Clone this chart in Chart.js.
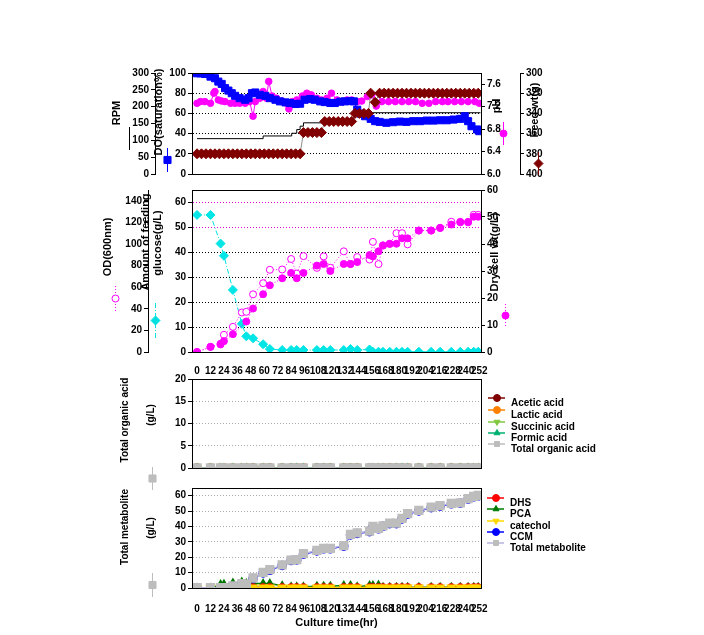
<!DOCTYPE html>
<html>
<head>
<meta charset="utf-8">
<script src="https://cdn.jsdelivr.net/npm/chart.js@4.4.0/dist/chart.umd.min.js"></script>
<style>
  body { margin: 0; background: #fff; }
  #wrap { position: relative; width: 704px; height: 635px; }
  canvas { position: absolute; left: 0; }
</style>
</head>
<body>
<div id="wrap">
  <canvas id="c1" width="704" height="122" style="top:60px"></canvas>
  <canvas id="c2" width="704" height="196" style="top:182px"></canvas>
  <canvas id="c3" width="704" height="136" style="top:362px"></canvas>
  <canvas id="c4" width="704" height="155" style="top:480px"></canvas>
</div>
<script>
// --- off-line samples (hr) ---
const sampleHours = [0, 12, 21, 24, 32, 40, 44, 50, 59, 65, 76, 84, 89, 95, 107, 113, 119, 131, 137, 143,
  154, 157, 162, 166, 172, 178, 183, 188, 198, 209, 217, 227, 235, 242, 247, 251];
const odValues = [0, 4.7, 7.7, 15.9, 23.3, 36.6, 37.2, 53.4, 63.7, 76.1, 76.4, 86.1, 72.6, 88.8, 77.9, 88.5, 78, 93.2, 81.4, 87.9,
  85.6, 102, 81.4, 98.5, 100, 110, 110, 99.7, 112.4, 112.4, 114.7, 120.6, 120, 120, 127, 127];
const dcwValues = [0, 1.9, 2.8, 4.0, 6.6, null, 11.3, 16.1, 21.4, 24.7, 27.3, 29.3, 27.3, 29.3, 32.0, 32.6, 30.0, 32.6, 32.6, 33.3,
  35.9, 35.4, 37.3, 39.5, 40.1, 40.1, 42.1, 42.1, 45.0, 45.0, 46.0, 47.2, 48.2, 48.2, 50.1, 50.1];
const glucoseValues = [55, 55, 43.5, 38.6, 24.9, 11.3, 6.3, 5.5, 3.1, 1.2, 0.8, 0.8, 0.8, 0.8, 0.8, 0.8, 0.8, 0.8, 1.2, 0.8,
  1.0, 0.1, 0.1, 0.1, 0.1, 0.1, 0.1, 0.1, 0.1, 0.1, 0.1, 0.1, 0.1, 0.1, 0.1, 0.1];

const aceticValues = [0, 0, 0, 0, 0, 0, 0, 0, 0, 0, 0, 0, 0, 0, 0, 0, 0, 0, 0, 0, 0, 0, 0, 0, 0, 0, 0, 0, 0, 0, 0, 0, 0, 0, 0, 0];
const lacticValues = [0, 0, 0, 0, 0, 0, 0, 0, 0, 0, 0, 0, 0, 0, 0, 0, 0, 0, 0, 0, 0, 0, 0, 0, 0, 0, 0, 0, 0, 0, 0, 0, 0, 0, 0, 0];
const succinicValues = [0, 0, 0, 0, 0, 0, 0, 0, 0, 0, 0, 0, 0, 0, 0, 0, 0, 0, 0, 0, 0, 0, 0, 0, 0, 0, 0, 0, 0, 0, 0, 0, 0, 0, 0, 0];
const formicValues = [0, 0, 0, 0, 0, 0, 0, 0, 0, 0, 0, 0, 0, 0, 0, 0, 0, 0, 0, 0, 0, 0, 0, 0, 0, 0, 0, 0, 0, 0, 0, 0, 0, 0, 0, 0];
const totalAcidValues = [0, 0, 0, 0, 0, 0, 0, 0, 0, 0, 0, 0, 0, 0, 0, 0, 0, 0, 0, 0, 0, 0, 0, 0, 0, 0, 0, 0, 0, 0, 0, 0, 0, 0, 0, 0];

const dhsValues = [0, 0, 0, 0, 0, 0, 0, 0, 0, 0, 0, 0, 0, 0, 0, 0, 0, 0, 0, 0, 0, 0, 0, 0, 0, 0, 0, 0, 0, 0, 0, 0, 0, 0, 0, 0];
const pcaValues = [0, 0, 2.3, 2.5, 3.3, 3.9, 3.0, 2.9, 2.9, 2.9, 1.5, 0.8, 0.8, 0.8, 1.2, 1.2, 1.2, 1.7, 1.7, 0.8,
  1.7, 1.7, 1.9, 0.5, 0.5, 0.5, 0.5, 0.5, 0.5, 0.5, 0.5, 0.5, 0.5, 0.5, 0.5, 0.5];
const catecholValues = [0, 0, 0.1, 0.1, 0.2, 0.3, 0.3, 0.4, 0.4, 0.4, 0.4, 0.4, 0.4, 0.4, 0.4, 0.4, 0.4, 0.4, 0.4, 0.4,
  0.4, 0.4, 0.4, 0.4, 0.4, 0.4, 0.4, 0.4, 0.4, 0.4, 0.4, 0.4, 0.4, 0.4, 0.4, 0.4];
const ccmValues = [0.1, 0.1, 0.1, 0.1, 1.0, 2.5, 2.0, 6.1, 9.8, 11.5, 14.7, 17.8, 18.2, 22.0, 24.1, 25.5, 25.5, 27.2, 34.5, 35.5,
  36.6, 39.7, 38.5, 40.1, 41.8, 41.8, 44.9, 48.0, 50.1, 52.2, 53.2, 54.7, 55.1, 57.8, 59.3, 59.9];
const totalMetValues = [0.2, 0.2, 0.2, 0.2, 1.3, 2.9, 2.3, 6.5, 10.2, 11.9, 15.0, 18.1, 18.5, 22.3, 24.4, 25.8, 25.8, 27.5, 34.8, 35.8,
  36.9, 40.0, 38.8, 40.4, 42.1, 42.1, 45.2, 48.3, 50.4, 52.5, 53.5, 55.0, 55.4, 58.1, 59.6, 60.2];

// --- on-line data (top panel) ---
const rpmHours = [0, 59, 84.5, 89, 92, 95, 113, 140, 253];
const rpmValues = [105, 113, 121, 132, 142, 152, 162, 182, 182];

const doHours = [0, 3, 7, 12, 16, 19, 22, 25, 28, 31, 34, 38, 43, 46, 49, 52, 56, 61, 65, 70, 74, 79, 83, 88, 92, 96, 101, 105,
  110, 114, 119, 123, 128, 132, 137, 140, 143, 146, 150, 155, 159, 163, 169, 175, 181, 187, 193, 199, 205, 211, 217, 223,
  229, 235, 239, 242, 245, 250, 252];
const doValues = [99.7, 99.7, 99, 96.4, 94.8, 91.5, 89.2, 85, 82.6, 80, 77.4, 75.1, 73.5, 75.1, 80, 80.7, 78.4, 77.4, 75.1,
  73.5, 71.9, 70.9, 70.3, 69.3, 69.6, 73.5, 74.2, 73.5, 71.9, 71.2, 70.3, 70.3, 71.6, 71.9, 72.2, 71.9, 63.7, 59.8, 57.2,
  54.6, 52.3, 51.6, 50.7, 51.3, 51.9, 51.6, 52.3, 52.3, 52.9, 52.9, 53.2, 53.2, 53.9, 54.6, 57.2, 52.3, 47.3, 44.1, 42.4];

const phHours = [0, 3, 7, 12, 15, 16, 19, 22, 25, 30, 34, 38, 43, 47, 50, 52, 56, 59, 62, 64, 67, 71, 76, 80, 82, 85, 89, 94,
  98, 102, 107, 111, 116, 120, 125, 129, 134, 138, 143, 147, 152, 156, 160, 165, 171, 177, 183, 189, 195, 201, 207, 213,
  219, 224, 230, 236, 242, 248, 252];
const phValues = [7.26, 7.29, 7.29, 7.26, 7.44, 7.47, 7.32, 7.30, 7.29, 7.26, 7.26, 7.26, 7.26, 7.29, 7.03, 7.29, 7.35, 7.47,
  7.35, 7.65, 7.39, 7.35, 7.30, 7.26, 7.16, 7.29, 7.32, 7.39, 7.44, 7.41, 7.35, 7.32, 7.35, 7.44, 7.32, 7.29, 7.32, 7.32,
  7.29, 7.30, 7.38, 7.41, 7.21, 7.29, 7.29, 7.29, 7.29, 7.29, 7.29, 7.26, 7.26, 7.29, 7.29, 7.29, 7.29, 7.29, 7.29, 7.29, 7.26];

const wtHours = [0, 4, 8, 12, 16, 20, 24, 28, 32, 36, 40, 44, 48, 52, 56, 60, 64, 68, 72, 76, 80, 84, 88, 92,
  95, 99, 103, 107, 111, 114, 118, 122, 126, 130, 134, 138, 141, 145, 149, 153, 155, 159,
  163, 167, 171, 175, 179, 183, 187, 191, 195, 199, 203, 207, 211, 215, 219, 223, 227, 231, 235, 239, 243, 247, 251];
const wtValues = [380, 380, 380, 380, 380, 380, 380, 380, 380, 380, 380, 380, 380, 380, 380, 380, 380, 380, 380, 380, 380, 380, 380, 380,
  359, 359, 359, 359, 359, 348, 348, 348, 348, 348, 348, 348, 340, 340, 340, 340, 320, 329,
  320, 320, 320, 320, 320, 320, 320, 320, 320, 320, 320, 320, 320, 320, 320, 320, 320, 320, 320, 320, 320, 320, 320];

// --- tick labels ---
const hourTicks = [0, 12, 24, 36, 48, 60, 72, 84, 96, 108, 120, 132, 144, 156, 168, 180, 192, 204, 216, 228, 240, 252];
const rpmTicks = [0, 50, 100, 150, 200, 250, 300];
const doTicks = [0, 20, 40, 60, 80, 100];
const phTicks = [6.0, 6.2, 6.4, 6.6, 6.8, 7.0, 7.2, 7.4, 7.6, 7.8];
const wtTicks = [300, 320, 340, 360, 380, 400];
const odTicks = [0, 20, 40, 60, 80, 100, 120, 140];
const glucoseTicks = [0, 10, 20, 30, 40, 50, 60];
const dcwTicks = [0, 10, 20, 30, 40, 50, 60];
const acidTicks = [0, 5, 10, 15, 20];
const metTicks = [0, 10, 20, 30, 40, 50, 60];

Chart.defaults.font.family = 'Liberation Sans';
Chart.defaults.color = '#000';
Chart.defaults.animation = false;

const pts = (xs, ys) => xs.map((x, i) => ({ x: x, y: ys[i] }));
const tickFont = { size: 10, weight: 'bold' };
const titleFont = 'bold 11px "Liberation Sans"';
const clear = 'rgba(0,0,0,0)';

// frame round the plot area + side titles, keys and legends (cfg kept in a closure)
const notes = (cfg) => ({
    id: 'notes',
    afterDraw(chart) {
        const ctx = chart.ctx;
        const a = chart.chartArea;
        const dy = chart.canvas.offsetTop;
        ctx.save();
        ctx.strokeStyle = '#000';
        ctx.lineWidth = 1;
        ctx.strokeRect(a.left + 0.5, a.top + 0.5, a.right - a.left, a.bottom - a.top);

        (cfg.titles || []).forEach((t) => {
            ctx.save();
            ctx.translate(t.x, t.y - dy);
            ctx.rotate(-Math.PI / 2);
            ctx.font = t.font || titleFont;
            ctx.fillStyle = '#000';
            ctx.textAlign = 'center';
            ctx.textBaseline = 'middle';
            ctx.fillText(t.text, 0, 0);
            ctx.restore();
        });

        const marker = (shape, rot, x, y, r, color, fill) => {
            ctx.save();
            ctx.fillStyle = fill || color;
            ctx.strokeStyle = color;
            ctx.lineWidth = 1;
            ctx.setLineDash([]);
            Chart.helpers.drawPoint(ctx, { pointStyle: shape, rotation: rot || 0, radius: r, borderWidth: 1 }, x, y);
            ctx.restore();
        };

        (cfg.keys || []).forEach((k) => {
            ctx.save();
            ctx.strokeStyle = k.color;
            ctx.lineWidth = 1;
            ctx.setLineDash(k.dash || []);
            ctx.beginPath();
            ctx.moveTo(k.x + 0.5, k.y1 - dy);
            ctx.lineTo(k.x + 0.5, k.y2 - dy);
            ctx.stroke();
            ctx.restore();
            if (k.shape) marker(k.shape, k.rot, k.x + 0.5, (k.y1 + k.y2) / 2 - dy, k.r, k.color, k.fill);
        });

        if (cfg.legend) {
            const lg = cfg.legend;
            chart.data.datasets.forEach((ds, i) => {
                const y = lg.rows[i] - dy;
                ctx.save();
                ctx.strokeStyle = ds.borderColor;
                ctx.lineWidth = 1.5;
                ctx.beginPath();
                ctx.moveTo(lg.x, y);
                ctx.lineTo(lg.x + 17, y);
                ctx.stroke();
                ctx.restore();
                marker(ds.pointStyle, ds.pointRotation, lg.x + 9, y, 3.5, ds.pointBorderColor, ds.pointBackgroundColor);
                ctx.font = 'bold 10px "Liberation Sans"';
                ctx.fillStyle = '#000';
                ctx.textBaseline = 'middle';
                ctx.fillText(ds.label, lg.x + 23, y + 5);
            });
        }
        ctx.restore();
    },
});

const hourAxis = (show, padding, title) => ({
    type: 'linear',
    min: -4.5,
    max: 253.5,
    display: show,
    afterBuildTicks: (s) => { s.ticks = hourTicks.map((v) => ({ value: v })); },
    afterFit: (s) => { if (show) s.height = title ? 47 : 26; },
    grid: { display: false },
    border: { display: false },
    ticks: { autoSkip: false, maxRotation: 0, padding: padding, font: tickFont },
    title: title ? { display: true, text: title, font: { size: 11, weight: 'bold' }, padding: { top: 0, bottom: 5 } } : { display: false },
});

const yAxis = (o) => ({
    type: 'linear',
    position: o.pos,
    weight: o.weight,
    min: o.min,
    max: o.max,
    reverse: !!o.reverse,
    afterBuildTicks: (s) => { s.ticks = o.ticks.map((v) => ({ value: v })); },
    afterFit: (s) => { s.width = o.width; },
    border: { display: true, color: '#000', width: 1, dash: [1, 2] },
    grid: {
        drawOnChartArea: !!o.grid,
        color: (c) => (o.grid && c.tick ? (o.grid(c.tick.value) || clear) : clear),
        tickColor: '#000',
        tickLength: 4,
        tickBorderDash: [],
    },
    ticks: { font: tickFont, padding: 2, callback: o.fmt || ((v) => v) },
});

const baseOptions = (padding) => ({
    responsive: false,
    layout: { padding: padding, autoPadding: false },
    elements: { line: { tension: 0, borderWidth: 1 }, point: { borderWidth: 1 } },
    plugins: { legend: { display: false }, tooltip: { enabled: false } },
});

// top panel: RPM, DO, pH, feed weight
const opt1 = baseOptions({ left: 100, right: 134, top: 13, bottom: 7 });
opt1.scales = {
    x: hourAxis(false),
    yRpm: yAxis({ pos: 'left', weight: 2, width: 55, min: 0, max: 300, ticks: rpmTicks }),
    yDo: yAxis({ pos: 'left', weight: 1, width: 37, min: 0, max: 100, ticks: doTicks,
        grid: (v) => (v > 0 && v < 100 ? '#000' : null) }),
    yPh: yAxis({ pos: 'right', weight: 1, width: 39, min: 6.0, max: 7.8, ticks: phTicks, fmt: (v) => v.toFixed(1) }),
    yWt: yAxis({ pos: 'right', weight: 2, width: 50, min: 300, max: 400, reverse: true, ticks: wtTicks }),
};
new Chart(document.getElementById('c1'), {
    type: 'line',
    data: {
        datasets: [
            { label: 'Feed wt', data: pts(wtHours, wtValues), yAxisID: 'yWt', order: 1, borderColor: '#8c8c8c',
              pointStyle: 'rectRot', pointRadius: 5, pointBackgroundColor: '#800000', pointBorderColor: '#800000' },
            { label: 'DO', data: pts(doHours, doValues), yAxisID: 'yDo', order: 2, borderColor: '#0000ff',
              pointStyle: 'rect', pointRadius: 5, pointBackgroundColor: '#0000ff', pointBorderColor: '#0000ff' },
            { label: 'pH', data: pts(phHours, phValues), yAxisID: 'yPh', order: 3, borderColor: '#ff00ff',
              pointRadius: 3.3, pointBackgroundColor: '#ff00ff', pointBorderColor: '#ff00ff' },
            { label: 'RPM', data: pts(rpmHours, rpmValues), yAxisID: 'yRpm', order: 4, borderColor: '#000',
              pointRadius: 0, stepped: true },
        ],
    },
    options: opt1,
    plugins: [notes({
        titles: [
            { text: 'RPM', x: 117, y: 113 },
            { text: 'DO(saturation%)', x: 159, y: 112 },
            { text: 'pH', x: 497, y: 106 },
            { text: 'Feed wt(g)', x: 535, y: 110 },
        ],
        keys: [
            { x: 129, y1: 127, y2: 150, color: '#000' },
            { x: 167, y1: 148, y2: 172, color: '#0000ff', shape: 'rect', r: 5 },
            { x: 503, y1: 122, y2: 145, color: '#ff00ff', shape: 'circle', r: 3.5 },
            { x: 538, y1: 152, y2: 175, color: '#800000', shape: 'rectRot', r: 4.5 },
        ],
    })],
});

// second panel: OD, glucose, dry cell weight
const opt2 = baseOptions({ left: 100, right: 193, top: 1, bottom: 0 });
opt2.scales = {
    x: hourAxis(true, 5),
    yOd: yAxis({ pos: 'left', weight: 2, width: 48, min: 0, max: 150, ticks: odTicks }),
    yGlc: yAxis({ pos: 'left', weight: 1, width: 44, min: 0, max: 65, ticks: glucoseTicks,
        grid: (v) => (v >= 50 ? '#dd00dd' : v > 0 ? '#000' : null) }),
    yDcw: yAxis({ pos: 'right', weight: 1, width: 30, min: 0, max: 60, ticks: dcwTicks }),
};
new Chart(document.getElementById('c2'), {
    type: 'line',
    data: {
        datasets: [
            { label: 'Dry cell wt', data: pts(sampleHours, dcwValues), yAxisID: 'yDcw', spanGaps: true,
              borderColor: '#ff00ff', borderDash: [1, 2], pointRadius: 3.5,
              pointBackgroundColor: '#ff00ff', pointBorderColor: '#ff00ff' },
            { label: 'OD', data: pts(sampleHours, odValues), yAxisID: 'yOd',
              borderColor: '#ff00ff', borderDash: [1, 2], pointRadius: 3.5,
              pointBackgroundColor: '#fff', pointBorderColor: '#ff00ff' },
            { label: 'Glucose', data: pts(sampleHours, glucoseValues), yAxisID: 'yGlc',
              borderColor: '#00e0e0', borderDash: [5, 2, 1, 2], pointStyle: 'rectRot', pointRadius: 4.5,
              pointBackgroundColor: '#00e5e5', pointBorderColor: '#00e5e5' },
        ],
    },
    options: opt2,
    plugins: [notes({
        titles: [
            { text: 'OD(600nm)', x: 108, y: 247 },
            { text: 'Amount of feeding', x: 146, y: 242 },
            { text: 'glucose(g/L)', x: 158, y: 243 },
            { text: 'Dry cell wt(g/L)', x: 495, y: 252 },
        ],
        keys: [
            { x: 115, y1: 286, y2: 311, color: '#ff00ff', dash: [1, 2], shape: 'circle', r: 3.5, fill: '#fff' },
            { x: 155, y1: 303, y2: 338, color: '#00e0e0', dash: [5, 2, 1, 2], shape: 'rectRot', r: 4.5 },
            { x: 505, y1: 304, y2: 327, color: '#ff00ff', dash: [1, 2], shape: 'circle', r: 3.5 },
        ],
    })],
});

// third panel: organic acids
const grayGrid = (v) => (v > 0 ? '#aaaaaa' : null);
const opt3 = baseOptions({ left: 100, right: 223, top: 17, bottom: 30 });
opt3.scales = {
    x: hourAxis(false),
    y: yAxis({ pos: 'left', weight: 1, width: 92, min: 0, max: 20, ticks: acidTicks, grid: grayGrid }),
};
const acidSet = (label, values, color, shape, rot, r) => ({
    label: label, data: pts(sampleHours, values), borderColor: color, pointStyle: shape, pointRotation: rot || 0,
    pointRadius: r || 4, pointBackgroundColor: color, pointBorderColor: color, borderWidth: 1.5,
});
new Chart(document.getElementById('c3'), {
    type: 'line',
    data: {
        datasets: [
            acidSet('Acetic acid', aceticValues, '#800000', 'circle'),
            acidSet('Lactic acid', lacticValues, '#ff8000', 'circle'),
            acidSet('Succinic acid', succinicValues, '#80c840', 'triangle', 180),
            acidSet('Formic acid', formicValues, '#00b070', 'triangle'),
            acidSet('Total organic acid', totalAcidValues, '#bdbdbd', 'rect', 0, 5.5),
        ].map((d, i, arr) => Object.assign(d, { order: arr.length - i })),
    },
    options: opt3,
    plugins: [notes({
        titles: [
            { text: 'Total organic acid', x: 125, y: 420, font: 'bold 10px "Liberation Sans"' },
            { text: '(g/L)', x: 151, y: 415, font: 'bold 10px "Liberation Sans"' },
        ],
        keys: [{ x: 152, y1: 467, y2: 490, color: '#bdbdbd', shape: 'rect', r: 5 }],
        legend: { x: 488, rows: [398, 410, 422, 433, 444] },
    })],
});

// bottom panel: metabolites
const opt4 = baseOptions({ left: 100, right: 223, top: 4, bottom: 0 });
opt4.scales = {
    x: hourAxis(true, 7, 'Culture time(hr)'),
    y: yAxis({ pos: 'left', weight: 1, width: 92, min: 0, max: 65, ticks: metTicks, grid: grayGrid }),
};
const totalMet = acidSet('Total metabolite', totalMetValues, '#bdbdbd', 'rect', 0, 5.5);
totalMet.borderColor = '#b4b4dc';
new Chart(document.getElementById('c4'), {
    type: 'line',
    data: {
        datasets: [
            acidSet('DHS', dhsValues, '#ff0000', 'circle'),
            acidSet('PCA', pcaValues, '#007800', 'triangle'),
            acidSet('catechol', catecholValues, '#ffd700', 'triangle', 180, 4.5),
            acidSet('CCM', ccmValues, '#0000ff', 'circle'),
            totalMet,
        ].map((d, i) => Object.assign(d, { order: [4, 5, 2, 3, 1][i] })),
    },
    options: opt4,
    plugins: [notes({
        titles: [
            { text: 'Total metabolite', x: 125, y: 527, font: 'bold 10px "Liberation Sans"' },
            { text: '(g/L)', x: 151, y: 528, font: 'bold 10px "Liberation Sans"' },
        ],
        keys: [{ x: 152, y1: 573, y2: 597, color: '#bdbdbd', shape: 'rect', r: 5 }],
        legend: { x: 487, rows: [498, 509, 521, 532, 543] },
    })],
});
</script>
</body>
</html>
